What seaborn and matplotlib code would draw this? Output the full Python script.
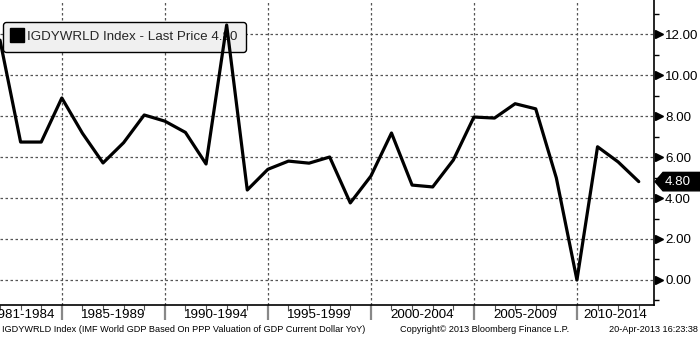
import matplotlib
matplotlib.use("Agg")
import matplotlib.pyplot as plt
import matplotlib.transforms as mtransforms
from matplotlib.lines import Line2D
from matplotlib.patches import Polygon
import seaborn as sns
import pandas as pd
import numpy as np

# ---- data ----
years = list(range(1981, 2013))
values = [11.70, 6.73, 6.73, 8.88, 7.16, 5.71, 6.70, 8.05, 7.75, 7.20,
          5.66, 12.44, 4.39, 5.40, 5.80, 5.70, 6.00, 3.76, 5.07, 7.17,
          4.63, 4.54, 5.85, 7.95, 7.90, 8.60, 8.35, 4.98, 0.00, 6.50,
          5.76, 4.80]
band_labels = ["1981-1984", "1985-1989", "1990-1994", "1995-1999",
               "2000-2004", "2005-2009", "2010-2014"]
band_centers = [1982.1, 1986.5, 1991.5, 1996.5, 2001.5, 2006.5, 2010.85]
band_edges = [1984, 1989, 1994, 1999, 2004, 2009]
y_ticks = [0, 2, 4, 6, 8, 10, 12]
legend_text = "IGDYWRLD Index - Last Price 4.80"
last_label = "4.80"
footer_left = "IGDYWRLD Index (IMF World GDP Based On PPP Valuation of GDP Current Dollar YoY)"
footer_mid = "Copyright\u00a9 2013 Bloomberg Finance L.P."
footer_right = "20-Apr-2013 16:23:38"

df = pd.DataFrame({"year": years, "value": values})

sns.set_style("white")
plt.rcParams["font.family"] = ["Liberation Sans", "DejaVu Sans"]

W, H = 700, 337
fig = plt.figure(figsize=(W / 100, H / 100), dpi=100)
ax = fig.add_axes([0, (H - 305) / H, 654 / W, 305 / H])

sns.lineplot(data=df, x="year", y="value", ax=ax, color="black",
             linewidth=2.3, zorder=5, legend=False)

ax.set_xlim(1981.0, 2012.74)
ax.set_ylim(-1.22, 13.66)
ax.set_xlabel("")
ax.set_ylabel("")

# spines
for s in ["top", "left"]:
    ax.spines[s].set_visible(False)
for s in ["right", "bottom"]:
    ax.spines[s].set_visible(True)
    ax.spines[s].set_color("black")
    ax.spines[s].set_linewidth(1.2)

# grid
for yv in y_ticks:
    ax.axhline(yv, color="#555555", linewidth=0.9, linestyle=(0, (2, 2)), zorder=1)
for xv in band_edges:
    ax.axvline(xv, color="#555555", linewidth=0.9, linestyle=(0, (2, 2)), zorder=1)

# x axis ticks
ax.set_xticks(band_edges)
ax.set_xticklabels([])
ax.tick_params(axis="x", which="major", length=11, width=1.6, color="#888888",
               direction="out", bottom=True)
ax.set_xticks(years, minor=True)
ax.tick_params(axis="x", which="minor", length=3.5, width=0.8, color="#555555",
               direction="out", bottom=True)
xtrans = mtransforms.blended_transform_factory(ax.transData, ax.transAxes)
for lab, c in zip(band_labels, band_centers):
    ax.text(c, -0.013, lab, transform=xtrans, ha="center", va="top",
            fontsize=9.6, color="black", clip_on=False)

# y axis on right
ax.yaxis.tick_right()
ax.set_yticks(y_ticks)
ax.set_yticklabels(["%.2f" % v for v in y_ticks], fontsize=9.6, color="black")
ax.tick_params(axis="y", which="major", length=0, pad=8)
ax.set_yticks(np.arange(-1, 14, 2), minor=True)
ax.tick_params(axis="y", which="minor", length=3.5, width=1, color="black",
               direction="out", right=True)
ytrans = mtransforms.blended_transform_factory(ax.transAxes, ax.transData)
off = mtransforms.ScaledTranslation(4.5 / 100, 0, fig.dpi_scale_trans)
ax.plot([1.0] * len(y_ticks), y_ticks, linestyle="none", marker=">",
        markersize=6, color="black", transform=ytrans + off, clip_on=False)

# last price tag
last = values[-1]
px_to_ax = 1 / 654
poly = Polygon([(1.0 + 1 * px_to_ax, last), (1.0 + 9 * px_to_ax, last + 0.45),
                (1.0 + 46 * px_to_ax, last + 0.45), (1.0 + 46 * px_to_ax, last - 0.45),
                (1.0 + 9 * px_to_ax, last - 0.45)],
               closed=True, facecolor="black", edgecolor="black",
               transform=ytrans, clip_on=False, zorder=6)
ax.add_patch(poly)
ax.text(1.0 + 11 * px_to_ax, last, last_label, transform=ytrans, ha="left",
        va="center", fontsize=9.6, color="white", clip_on=False, zorder=7)

# legend
handle = Line2D([], [], linestyle="none", marker="s", markersize=9.5,
                color="black")
leg = ax.legend([handle], [legend_text], loc="upper left",
                bbox_to_anchor=(3 / 654, 1 - 22 / 305), frameon=True,
                fontsize=9.6, handlelength=0.8, handletextpad=0.35,
                borderpad=0.65, borderaxespad=0, fancybox=True)
frame = leg.get_frame()
frame.set_facecolor("#f0f0f0")
frame.set_edgecolor("black")
frame.set_linewidth(1.0)
frame.set_alpha(1)
leg.set_zorder(2)

# footer
fy = (H - 330) / H
fig.text(2 / W, fy, footer_left, ha="left", va="center", fontsize=6.6, color="black")
fig.text(400 / W, fy, footer_mid, ha="left", va="center", fontsize=6.6, color="black")
fig.text(698 / W, fy, footer_right, ha="right", va="center", fontsize=6.6, color="black")

fig.savefig("out.png", dpi=100, facecolor="white")
